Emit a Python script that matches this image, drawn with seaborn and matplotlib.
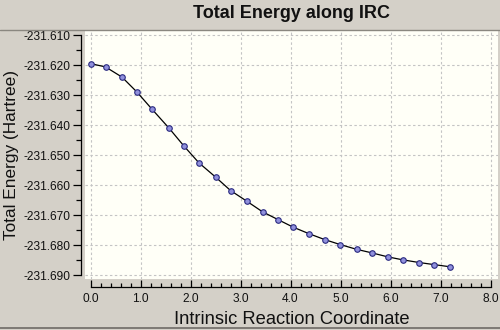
import matplotlib
matplotlib.use("Agg")
import matplotlib.pyplot as plt
from matplotlib.ticker import MultipleLocator, FormatStrFormatter
import seaborn as sns
import pandas as pd

# IRC path: reaction coordinate and total energy (Hartree)
irc_coord = [0.00, 0.30, 0.63, 0.93, 1.23, 1.57, 1.87, 2.17, 2.50, 2.80,
             3.12, 3.44, 3.75, 4.05, 4.37, 4.69, 4.99, 5.32, 5.63, 5.94,
             6.24, 6.57, 6.87, 7.18]
energy = [-231.6195, -231.6206, -231.6240, -231.6290, -231.6347, -231.6410,
          -231.6470, -231.6526, -231.6573, -231.6618, -231.6653, -231.6689,
          -231.6715, -231.6740, -231.6762, -231.6782, -231.6798, -231.6814,
          -231.6826, -231.6839, -231.6849, -231.6858, -231.6865, -231.6872]

title = "Total Energy along IRC"
xlabel = "Intrinsic Reaction Coordinate"
ylabel = "Total Energy (Hartree)"

df = pd.DataFrame({"coord": irc_coord, "energy": energy})

sns.set_theme(style="white")
plt.rcParams["font.family"] = ["Liberation Sans", "DejaVu Sans"]

panel_grey = "#d4d0c8"
plot_bg = "#fffff7"

fig = plt.figure(figsize=(5.0, 3.3), dpi=100, facecolor=panel_grey)
W, H = 500, 330
ax = fig.add_axes([85 / W, 1 - 279 / H, (498 - 85) / W, (279 - 30) / H])
ax.set_facecolor(plot_bg)

sns.lineplot(data=df, x="coord", y="energy", ax=ax, color="black", lw=0.9,
             marker="o", markersize=4.0, markerfacecolor="#9090dc",
             markeredgecolor="#2a2a80", markeredgewidth=0.8)

ax.set_xlim(-0.11, 8.15)
ax.set_ylim(-231.6913, -231.6083)

ax.xaxis.set_major_locator(MultipleLocator(1.0))
ax.xaxis.set_minor_locator(MultipleLocator(0.2))
ax.yaxis.set_major_locator(MultipleLocator(0.010))
ax.yaxis.set_minor_locator(MultipleLocator(0.005))
ax.xaxis.set_major_formatter(FormatStrFormatter("%.1f"))
ax.yaxis.set_major_formatter(FormatStrFormatter("%.3f"))

ax.grid(True, which="major", color="#c4c4c4", linestyle=(0, (2.2, 2.2)), lw=0.8)

for s in ("top", "right"):
    ax.spines[s].set_visible(False)
ax.spines["left"].set_position(("outward", 3))
ax.spines["bottom"].set_position(("outward", 6))
ax.spines["left"].set_bounds(-231.690, -231.610)
ax.spines["bottom"].set_bounds(0.0, 8.0)
for s in ("left", "bottom"):
    ax.spines[s].set_color("#000000")
    ax.spines[s].set_linewidth(0.9)

ax.tick_params(axis="y", which="major", direction="out", length=6, width=0.9,
               color="black", pad=1.5, labelsize=8.6, labelcolor="#111111", left=True)
ax.tick_params(axis="y", which="minor", direction="out", length=3.5, width=0.9,
               color="black", left=True)
ax.tick_params(axis="x", which="major", direction="in", length=5, width=0.9,
               color="black", pad=4, labelsize=8.6, labelcolor="#111111", bottom=True)
ax.tick_params(axis="x", which="minor", direction="in", length=3, width=0.9,
               color="black", bottom=True)

ax.set_xlabel(xlabel, fontsize=13.2, labelpad=4.5, color="#111111")
ax.set_ylabel(ylabel, fontsize=12.4, labelpad=3, color="#111111")

fig.text((85 + 498) / 2 / W, 1 - 14 / H, title, ha="center", va="center",
         fontsize=13, fontweight="bold", color="#111111")

# separators of the title band and the bottom edge
fig.add_artist(plt.Line2D([0, 1], [1 - 30 / H, 1 - 30 / H], color="#8a8780",
                          lw=1.0, transform=fig.transFigure))
fig.add_artist(plt.Line2D([0, 1], [1 - 327.5 / H, 1 - 327.5 / H], color="#6e6b66",
                          lw=1.2, transform=fig.transFigure))

fig.savefig("out.png", dpi=100, facecolor=panel_grey)
